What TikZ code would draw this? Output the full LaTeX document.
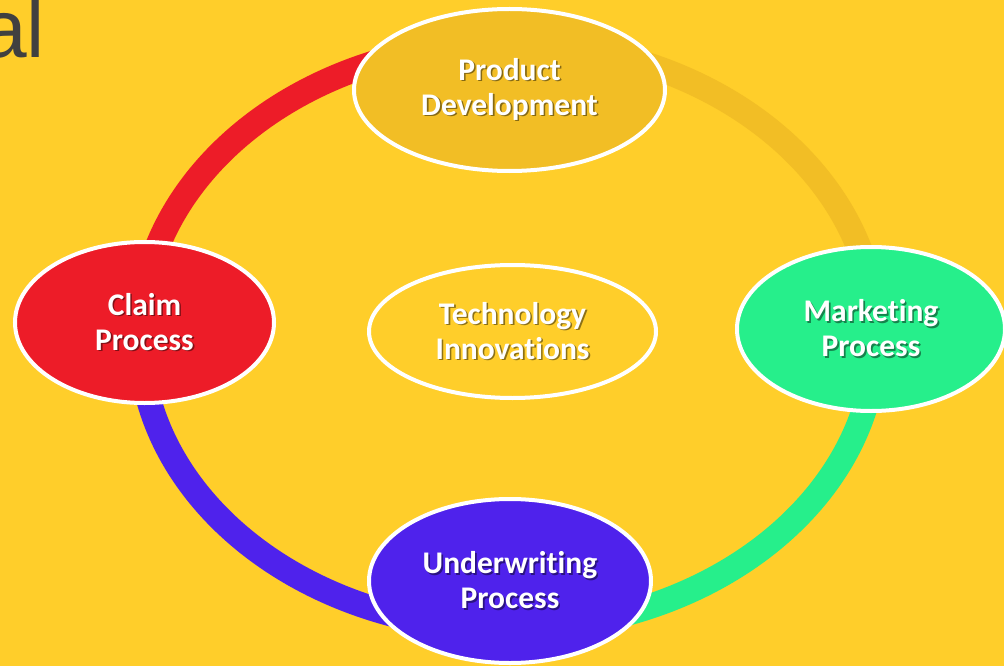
\documentclass[tikz,border=0pt]{standalone}
\usepackage{fontspec}
\usetikzlibrary{shapes.geometric}
\newfontfamily\lblfont{Carlito}[Ligatures={NoCommon},RawFeature={-liga}]
\newfontfamily\titlefont{Liberation Sans}

\definecolor{bgyellow}{HTML}{FFCE2A}
\definecolor{goldc}{HTML}{F2BE25}
\definecolor{redc}{HTML}{ED1C28}
\definecolor{purplec}{HTML}{4F22EC}
\definecolor{greenc}{HTML}{26EF8B}
\definecolor{titlegray}{HTML}{404040}

% white label with a small dark drop shadow
\newcommand\shadowed[1]{\rlap{\kern1.6pt\raisebox{-1.6pt}{\color{txtshadow}#1}}#1}

\tikzset{
  ringarc/.style={line width=25pt, line cap=butt},
  stage/.style={ellipse, draw=white, line width=4pt, inner sep=0pt,
    text=white, align=center,
    font=\lblfont\bfseries\fontsize{31.5}{35}\selectfont,
    fill=#1,
    execute at begin node={\colorlet{txtshadow}{#1!55!black}\vspace*{4pt}}},
}

\begin{document}
\begin{tikzpicture}[x=1pt,y=1pt]
  \useasboundingbox (0,0) rectangle (1004,-666);
  \fill[bgyellow] (0,0) rectangle (1004,-666);
  \clip (0,0) rectangle (1004,-666);

  % title fragment
  \node[anchor=base west, inner sep=0pt, text=titlegray,
        font=\titlefont\fontsize{82}{82}\selectfont] (title) at (-19,-58) {al};

  % ring around the centre, one colour per quadrant
  \coordinate (ring) at (508,-336);
  \draw[ringarc, redc]    ([shift={(0,293)}]ring)   arc[start angle=90,  end angle=180, x radius=368, y radius=293];
  \draw[ringarc, purplec] ([shift={(-368,0)}]ring)  arc[start angle=180, end angle=270, x radius=368, y radius=293];
  \draw[ringarc, greenc]  ([shift={(0,-293)}]ring)  arc[start angle=270, end angle=360, x radius=368, y radius=293];
  \draw[ringarc, goldc]   ([shift={(368,0)}]ring)   arc[start angle=0,   end angle=90,  x radius=368, y radius=293];

  % stages
  \node[stage=goldc, minimum width=311pt, minimum height=162pt] (prod) at (509.5,-90)
    {\shadowed{Product}\\\shadowed{Development}};
  \node[stage=bgyellow, minimum width=287pt, minimum height=133pt] (tech) at (512.5,-331.5)
    {\shadowed{Technology}\\\shadowed{Innovations}};
  \node[stage=redc, minimum width=259pt, minimum height=161pt] (claim) at (144.5,-322.5)
    {\shadowed{Claim}\\\shadowed{Process}};
  \node[stage=greenc, minimum width=268pt, minimum height=164pt] (mkt) at (871,-329)
    {\shadowed{Marketing}\\\shadowed{Process}};
  \node[stage=purplec, minimum width=282pt, minimum height=164pt] (uw) at (510,-581)
    {\shadowed{Underwriting}\\\shadowed{Process}};
\end{tikzpicture}
\end{document}
